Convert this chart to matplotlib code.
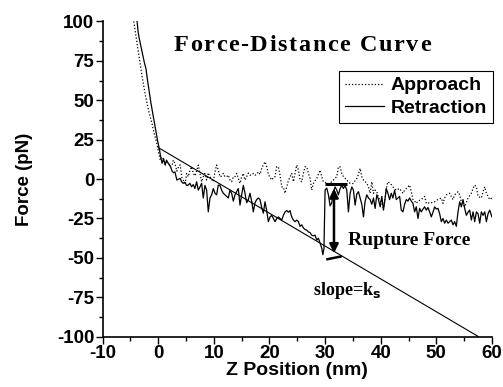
import matplotlib
matplotlib.use("Agg")
import matplotlib.pyplot as plt
from matplotlib.ticker import MultipleLocator
from matplotlib.transforms import offset_copy

plt.rcParams["axes.unicode_minus"] = False

# approach trace (dotted)
approach_x = [
    -4.4, -4.1, -3.8, -3.5, -3.2, -2.9, -2.6, -2.3, -2.0, -1.7, -1.4, -1.1, -0.8, -0.5, -0.2,
    0.05, 0.36, 0.6, 0.9, 1.26, 1.5, 1.8, 2.2, 2.5, 2.7, 3.0, 3.35, 3.65, 3.95, 4.25, 4.55,
    4.85, 5.1, 5.4, 5.7, 6.0, 6.3, 6.6, 6.9, 7.2, 7.5, 7.8, 8.1, 8.4, 8.7, 9.0, 9.3, 9.6,
    9.9, 10.2, 10.5, 10.8, 11.1, 11.4, 11.7, 12.0, 12.3, 12.6, 12.9, 13.2, 13.5, 13.8, 14.1,
    14.4, 14.7, 15.0, 15.3, 15.6, 15.9, 16.2, 16.5, 16.8, 17.1, 17.4, 17.7, 18.0, 18.3, 18.6,
    18.9, 19.2, 19.5, 19.8, 20.1, 20.4, 20.7, 21.0, 21.3, 21.6, 21.9, 22.2, 22.5, 22.8, 23.1,
    23.4, 23.7, 24.0, 24.3, 24.6, 24.9, 25.2, 25.5, 25.8, 26.1, 26.4, 26.7, 27.0, 27.3, 27.6,
    27.9, 28.2, 28.5, 28.8, 29.1, 29.4, 29.7, 30.0, 30.3, 30.6, 30.9, 31.2, 31.5, 31.8, 32.1,
    32.4, 32.7, 33.0, 33.3, 33.6, 33.9, 34.2, 34.5, 34.8, 35.1, 35.4, 35.7, 36.0, 36.3, 36.6,
    36.9, 37.2, 37.5, 37.8, 38.1, 38.4, 38.7, 39.0, 39.3, 39.6, 39.9, 40.2, 40.5, 40.8, 41.0,
    41.3, 41.7, 42.0, 42.2, 42.5, 42.8, 43.1, 43.4, 43.7, 44.0, 44.3, 44.6, 44.9, 45.2, 45.5,
    45.8, 46.1, 46.4, 46.7, 47.0, 47.3, 47.6, 47.9, 48.2, 48.5, 48.8, 49.1, 49.4, 49.7, 50.0,
    50.3, 50.6, 50.9, 51.2, 51.5, 51.8, 52.1, 52.4, 52.7, 53.0, 53.3, 53.6, 53.9, 54.2, 54.5,
    54.8, 55.1, 55.4, 55.7, 56.0, 56.3, 56.6, 56.9, 57.2, 57.5, 57.8, 58.1, 58.4, 58.7, 59.0,
    59.3, 59.6, 60.0]
approach_y = [
    100, 93, 86, 79, 72, 65, 59, 53, 48, 43, 39, 35, 30, 26, 22,
    17, 12, 14, 13, 9, 11, 10, 8, 9, 12, 10, 5, 8, 9, 1, -1,
    -2.7, 3.6, 1.5, 5.7, 7.8, 3.6, 2, 5, 8.9, 3.6, -1.7, 1.5, 3.6, -0.6, 4, 1.5, 0,
    -1.7, 4.6, 8.9, 5.7, 1.5, 2, 3.6, 1.5, 1.5, 2.5, -0.6, -1.7, 1.5, 1.5, 3.6,
    0.4, -2.7, 1.5, 3.6, -0.6, 1.5, 3.8, 2.5, 2.5, 3.6, 2.5, 3, 4.6, 3, 6.8,
    8.9, 11, 8, 3, 1, -0.6, 1, 1.5, 7.8, 7.8, 2.5, -4.9, -5, -9, -4.9,
    -1, 1.5, 3.6, -1.7, 3.6, 8.9, 5.7, -0.6, -1.7, 3.6, 7.8, 7.8, 3.6, 0.4, -7,
    -2.7, -1, 0.4, 3, 5.7, 1.5, -1.7, -2, -2.7, -3, -2.7, -1.5, -0.6, 0.5, 1.5,
    7.8, 7.8, 3.6, 1.5, 0.5, -0.6, -2, -2.7, -3, -2.7, -1, 0.4, 3, 6.8, 1.5,
    -0.6, -1.5, -2.7, -5, -9, -1.7, -9, -7, -8, -12, -13, -15.4, -18.6, -12, -6,
    -1.7, -2.7, -4, -4.9, -6, -7, -6.5, -6, -7.5, -9, -7, -6, -4.9, -3.8, -8,
    -13, -14, -15.4, -14, -13.5, -13, -12, -11, -15.4, -15, -15.4, -15, -14.5, -14.4, -13.5,
    -13, -12.5, -12, -15.4, -12, -10, -9.5, -9, -11, -13, -10, -9, -8, -10, -14.4,
    -16, -17.6, -15, -12, -10.5, -9, -6, -3.8, -4.9, -11, -11.5, -12, -8, -4.9, -9,
    -11, -13, -12]

# retraction trace (solid)
retraction_x = [
    -3.8, -3.6, -3.4, -3.1, -2.8, -2.5, -2.2, -1.9, -1.6, -1.3, -1.0, -0.7, -0.4, -0.1, 0.2,
    0.5, 0.7, 0.96, 1.25, 1.5, 1.8, 2.2, 2.5, 2.75, 3.0, 3.35, 3.65, 3.95, 4.2, 4.5, 4.8,
    5.1, 5.4, 5.7, 6.0, 6.3, 6.6, 6.9, 7.2, 7.5, 7.8, 8.1, 8.4, 8.7, 9.0, 9.3, 9.6, 9.9,
    10.2, 10.5, 10.8, 11.1, 11.4, 11.7, 12.0, 12.3, 12.6, 12.9, 13.2, 13.5, 13.8, 14.1,
    14.4, 14.7, 15.0, 15.3, 15.6, 15.9, 16.2, 16.5, 16.8, 17.1, 17.4, 17.7, 18.0, 18.3,
    18.6, 18.9, 19.2, 19.5, 19.8, 20.1, 20.4, 20.7, 21.0, 21.3, 21.6, 21.9, 22.2, 22.5,
    22.8, 23.1, 23.4, 23.7, 24.0, 24.3, 24.6, 24.9, 25.2, 25.5, 25.8, 26.1, 26.4, 26.7,
    27.0, 27.3, 27.6, 27.9, 28.2, 28.5, 28.8, 29.1, 29.4, 29.6, 29.8, 30.0, 30.3, 30.6,
    30.9, 31.2, 31.5, 31.8, 32.1, 32.4, 32.7, 33.0, 33.3, 33.6, 33.9, 34.2, 34.5, 34.8,
    35.1, 35.4, 35.7, 36.0, 36.3, 36.6, 36.9, 37.2, 37.5, 37.8, 38.1, 38.4, 38.7, 39.0,
    39.3, 39.6, 39.9, 40.2, 40.5, 40.8, 41.0, 41.3, 41.6, 41.9, 42.2, 42.5, 42.8, 43.1,
    43.4, 43.7, 44.0, 44.3, 44.6, 44.9, 45.2, 45.5, 45.8, 46.1, 46.4, 46.7, 47.0, 47.3,
    47.6, 47.9, 48.2, 48.5, 48.8, 49.1, 49.4, 49.7, 50.0, 50.3, 50.6, 50.9, 51.2, 51.5,
    51.8, 52.1, 52.4, 52.7, 53.0, 53.3, 53.6, 53.9, 54.2, 54.5, 54.8, 55.1, 55.4, 55.7,
    56.0, 56.3, 56.6, 56.9, 57.2, 57.5, 57.8, 58.1, 58.4, 58.7, 59.0, 59.3, 59.6, 60.0]
retraction_y = [
    100, 93, 89, 84, 79, 74, 70, 62, 55, 48, 42, 36, 30, 24, 19,
    13, 10, 13, 9, 12, 10, 8, 5, 4, 4.6, -0.6, 0, 0.4, -1.7, -2.7, -2,
    -4, -3.8, -2.7, -4.9, -3.5, -6, -1.7, -7, -5, -2.7, -12, -4, -7, -20.8, -12, -10, -6,
    -9, -10, -3.8, -4, -7, -9, -10, -11, -12, -7, -9, -14, -10, -8,
    -6, -16.5, -10, -4, -9, -15, -13, -9, -14, -20.8, -15, -13, -12, -13,
    -18, -21.6, -14.4, -20, -27, -24, -23, -25, -27, -25, -24, -25, -26, -23,
    -20.8, -20, -21, -20, -24, -26, -27, -26, -27, -30, -29, -31, -32, -32.4,
    -33.5, -34, -35.6, -36, -35.6, -38.7, -37.5, -40.6, -43.8, -48, -44, -7, -5.7, -10,
    -17, -15, -8, -5, -7, -10, -6, -4, -6, -4, -7, -20.8, -9, -5,
    -7, -16.5, -9.5, -8, -12, -16, -24, -14, -10, -12, -13, -16, -12, -18.6,
    -10, -13, -17.6, -11, -19.7, -12, -6, -9, -13, -9, -12, -7, -13, -12,
    -11, -19.7, -20.8, -16, -13, -14, -12, -14, -15.4, -20.8, -17.6, -25, -18.6, -20.8,
    -19, -17.6, -19.7, -18, -20.8, -24, -21, -17.6, -19, -18.6, -22, -27, -25, -28,
    -26, -28, -27, -26, -29, -27, -30, -20.8, -14.4, -17.6, -13, -18.6, -23, -21,
    -19.7, -26, -20.8, -27, -20.8, -22, -28, -20.8, -23, -20.8, -27, -22, -19.7, -24]

# fitted spring line, slope = k_s
slope_x = [0, 57.6]
slope_y = [20, -100]

# rupture force: top of the jump and bottom on the spring line
rupture_x = 31.6
rupture_top = -6
rupture_bottom = -47

x_ticks = [-10, 0, 10, 20, 30, 40, 50, 60]
y_ticks = [-100, -75, -50, -25, 0, 25, 50, 75, 100]

sans = "Liberation Sans"
serif = "Liberation Serif"


def spaced_text(ax, x, y, s, extra_px, **kw):
    """draw s one glyph at a time, with extra_px pixels between glyphs."""
    fig = ax.figure
    renderer = fig.canvas.get_renderer()
    size_px = kw.get("fontsize", 12) * fig.dpi / 72.0
    dx = 0.0
    for ch in s:
        if ch == " ":
            dx += 0.25 * size_px + extra_px
            continue
        trans = offset_copy(ax.transData, fig=fig, x=dx, y=0, units="dots")
        t = ax.text(x, y, ch, transform=trans, ha="left", va="center", **kw)
        dx += t.get_window_extent(renderer).width + extra_px


fig = plt.figure(figsize=(5.03, 3.87), dpi=100)
ax = fig.add_axes([0.204, 0.130, 0.774, 0.8145])

ax.plot(approach_x, approach_y, color="black", lw=0.9, linestyle=(0, (1, 1.6)),
        label="Approach")
ax.plot(retraction_x, retraction_y, color="black", lw=0.9, label="Retraction")
ax.plot(slope_x, slope_y, color="black", lw=0.8)

# markers at the ends of the rupture jump
ax.plot([30.0, 34.0], [-3.2, -3.2], color="black", lw=2.2, solid_capstyle="butt")
ax.plot([30.2, 33.0], [-51, -49], color="black", lw=1.8, solid_capstyle="butt")
ax.annotate("", xy=(rupture_x, rupture_bottom), xytext=(rupture_x, rupture_top),
            arrowprops=dict(arrowstyle="<|-|>", color="black", lw=1.8,
                            mutation_scale=13, shrinkA=0, shrinkB=0))

ax.text(34.1, -38.7, "Rupture Force", fontfamily=serif, fontweight="bold",
        fontsize=14, va="center", ha="left")
ax.text(27.8, -70.5, "slope=k$_\\mathbf{s}$", fontfamily=serif, fontweight="bold",
        fontsize=13, va="center", ha="left")
spaced_text(ax, 2.7, 84.5, "Force-Distance Curve", 1.6,
            fontfamily=serif, fontweight="bold", fontsize=17.5)

ax.set_xlim(-10, 60)
ax.set_ylim(-100, 100)
ax.set_xticks(x_ticks)
ax.set_yticks(y_ticks)
ax.xaxis.set_minor_locator(MultipleLocator(5))
ax.yaxis.set_minor_locator(MultipleLocator(12.5))
ax.tick_params(which="major", direction="out", length=5, width=1, pad=1)
ax.tick_params(which="minor", direction="out", length=3, width=1)
for lab in ax.get_xticklabels() + ax.get_yticklabels():
    lab.set_fontfamily(sans)
    lab.set_fontweight("bold")
    lab.set_fontsize(13.5)

for side in ["top", "right"]:
    ax.spines[side].set_visible(False)
for side in ["left", "bottom"]:
    ax.spines[side].set_linewidth(1.2)

ax.set_xlabel("Z Position (nm)", fontfamily=sans, fontweight="bold", fontsize=14, labelpad=0)
ax.set_ylabel("Force (pN)", fontfamily=sans, fontweight="bold", fontsize=13.5, labelpad=17)

leg = ax.legend(loc="upper right", bbox_to_anchor=(1.003, 0.843),
                prop={"family": sans, "weight": "bold", "size": 14},
                handlelength=2.0, handletextpad=0.35, labelspacing=0.25,
                borderpad=0.3, borderaxespad=0, fancybox=False, framealpha=1)
leg.get_frame().set_edgecolor("black")
leg.get_frame().set_linewidth(0.8)

fig.savefig("out.png", dpi=100)
